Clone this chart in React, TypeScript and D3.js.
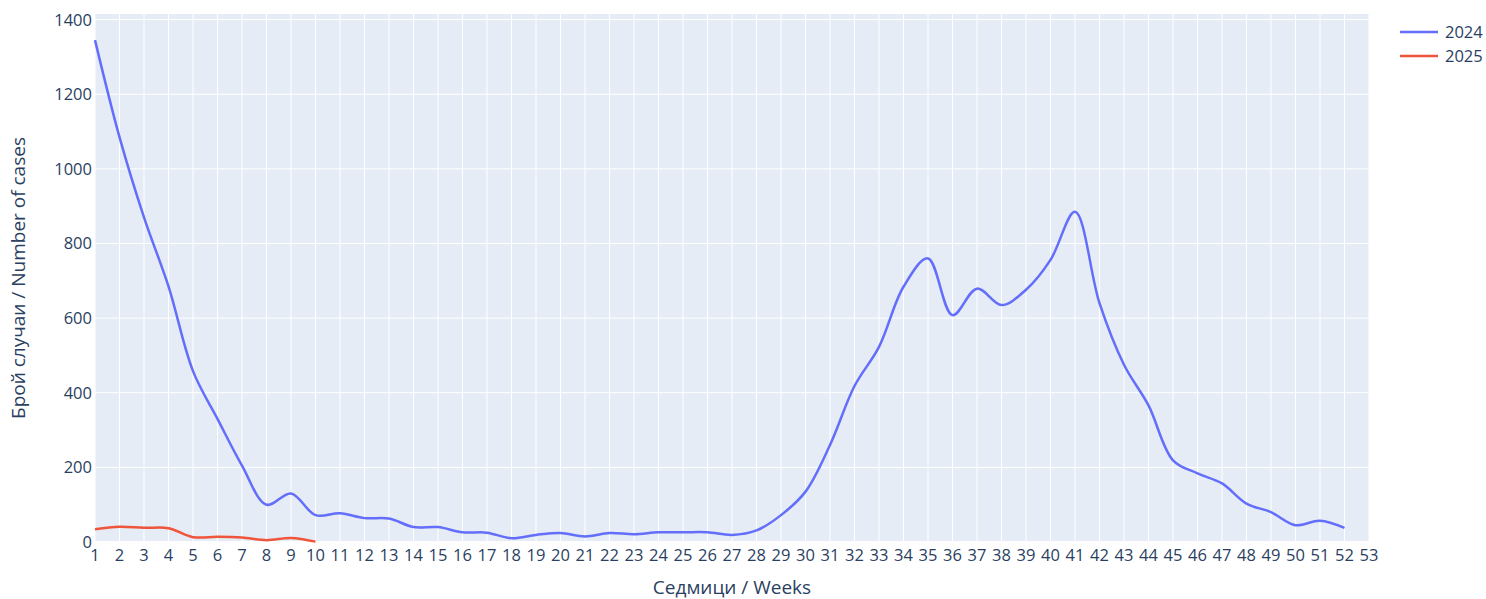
import React, { useEffect, useRef } from 'react';
import * as d3 from 'd3';

const weeks2024 = d3.range(1, 53);
const cases2024 = [
  1345, 1085, 870, 685, 458, 330, 205, 100, 130, 72,
  77, 64, 63, 40, 40, 26, 25, 10, 19, 24,
  15, 24, 21, 26, 26, 26, 19, 31, 72, 135,
  260, 418, 523, 684, 760, 608, 679, 635, 676, 756,
  885, 640, 475, 366, 219, 184, 157, 103, 80, 45,
  57, 38,
];
const weeks2025 = d3.range(1, 11);
const cases2025 = [34, 41, 38, 37, 13, 14, 12, 5, 11, 1];
const xTicks = d3.range(1, 54);
const yTicks = [0, 200, 400, 600, 800, 1000, 1200, 1400];
const seriesNames = ['2024', '2025'];
const seriesColors = ['#636efa', '#ef553b'];

const W = 1486;
const H = 599;
const margin = { left: 95, right: 117, top: 14, bottom: 57 };
const font = '"Open Sans", verdana, arial, sans-serif';
const textColor = '#2a3f5f';
const tickSize = 16.5;
const titleSize = 19;

export default function App() {
  const ref = useRef<SVGSVGElement>(null);

  useEffect(() => {
    const svg = d3.select(ref.current);
    svg.selectAll('*').remove();

    const x = d3.scaleLinear().domain([1, 53]).range([margin.left, W - margin.right]);
    const y = d3.scaleLinear().domain([0, 1415]).range([H - margin.bottom, margin.top]);

    svg.append('rect')
      .attr('x', margin.left)
      .attr('y', margin.top)
      .attr('width', W - margin.left - margin.right)
      .attr('height', H - margin.top - margin.bottom)
      .attr('fill', '#e5ecf6');

    // grid
    svg.append('g').selectAll('line')
      .data(xTicks)
      .enter().append('line')
      .attr('x1', d => x(d)).attr('x2', d => x(d))
      .attr('y1', margin.top).attr('y2', H - margin.bottom)
      .attr('stroke', 'white').attr('stroke-width', 1);

    svg.append('g').selectAll('line')
      .data(yTicks)
      .enter().append('line')
      .attr('x1', margin.left).attr('x2', W - margin.right)
      .attr('y1', d => y(d)).attr('y2', d => y(d))
      .attr('stroke', 'white').attr('stroke-width', d => (d === 0 ? 2 : 1));

    // tick labels
    svg.append('g').selectAll('text')
      .data(xTicks)
      .enter().append('text')
      .attr('x', d => x(d))
      .attr('y', H - margin.bottom + 19)
      .attr('text-anchor', 'middle')
      .attr('font-family', font).attr('font-size', tickSize).attr('fill', textColor)
      .text(d => d);

    svg.append('g').selectAll('text')
      .data(yTicks)
      .enter().append('text')
      .attr('x', margin.left - 3)
      .attr('y', d => y(d) + 6)
      .attr('text-anchor', 'end')
      .attr('font-family', font).attr('font-size', tickSize).attr('fill', textColor)
      .text(d => d);

    // axis titles
    svg.append('text')
      .attr('x', (margin.left + W - margin.right) / 2)
      .attr('y', 594)
      .attr('text-anchor', 'middle')
      .attr('font-family', font).attr('font-size', titleSize).attr('fill', textColor)
      .text('Седмици / Weeks');

    svg.append('text')
      .attr('transform', `translate(25,${(margin.top + H - margin.bottom) / 2}) rotate(-90)`)
      .attr('text-anchor', 'middle')
      .attr('font-family', font).attr('font-size', titleSize).attr('fill', textColor)
      .text('Брой случаи / Number of cases');

    // lines, spline-ish like plotly
    const line = d3.line<[number, number]>()
      .x(d => x(d[0]))
      .y(d => y(d[1]))
      .curve(d3.curveCatmullRom.alpha(0.5));

    const series = [
      weeks2024.map((w, i) => [w, cases2024[i]] as [number, number]),
      weeks2025.map((w, i) => [w, cases2025[i]] as [number, number]),
    ];

    series.forEach((s, i) => {
      svg.append('path')
        .attr('d', line(s))
        .attr('fill', 'none')
        .attr('stroke', seriesColors[i])
        .attr('stroke-width', 2.5)
        .attr('stroke-linejoin', 'round');
    });

    // legend
    const legend = svg.append('g');
    seriesNames.forEach((name, i) => {
      const ly = 32 + i * 24;
      legend.append('line')
        .attr('x1', 1400).attr('x2', 1438)
        .attr('y1', ly).attr('y2', ly)
        .attr('stroke', seriesColors[i]).attr('stroke-width', 2.5);
      legend.append('text')
        .attr('x', 1445).attr('y', ly + 6)
        .attr('font-family', font).attr('font-size', tickSize).attr('fill', textColor)
        .text(name);
    });
  }, []);

  return (
    <svg
      ref={ref}
      width={W}
      height={H}
      style={{ position: 'absolute', left: 0, top: 0, background: 'white' }}
    />
  );
}
